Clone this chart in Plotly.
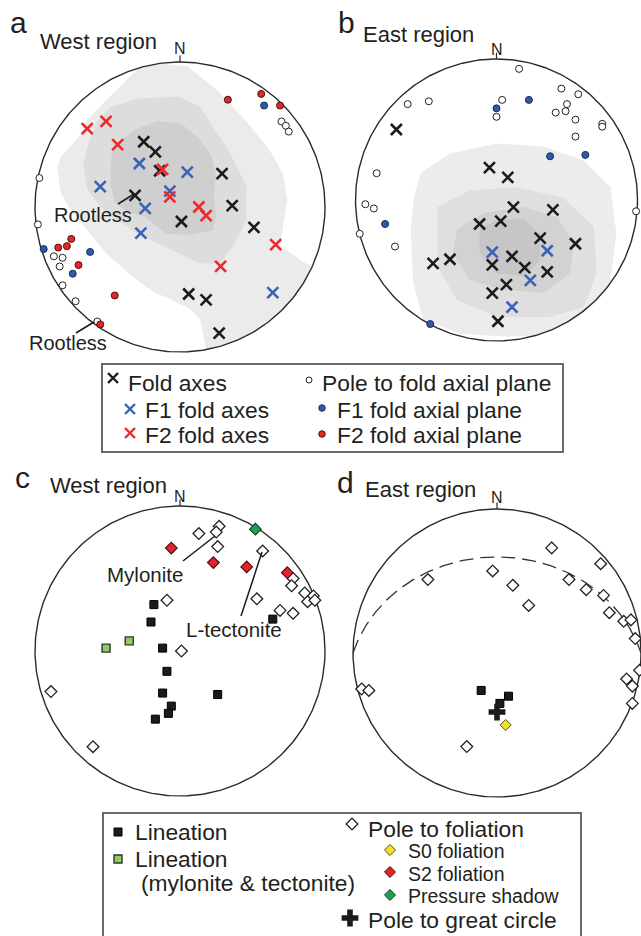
import numpy as np
import plotly.graph_objects as go

W, H = 641, 936
FONT = "Liberation Sans, Arial, Helvetica, sans-serif"
INK = "#231f20"

# ---------------------------------------------------------------------------
# Data, in equal-area net coordinates (unit primitive, x = east, y = north)
# ---------------------------------------------------------------------------
# (a) West region - fold data
a_fold_x = [-0.25, -0.17, -0.14, 0.29, -0.31, 0.36, 0.01, 0.51, 0.06, 0.18, 0.27]
a_fold_y = [0.45, 0.38, 0.25, 0.23, 0.08, 0.01, -0.10, -0.14, -0.60, -0.64, -0.87]
a_f1_axes_x = [-0.28, -0.55, 0.05, -0.07, -0.24, -0.27, 0.64]
a_f1_axes_y = [0.30, 0.14, 0.24, 0.11, -0.01, -0.18, -0.59]
a_f2_axes_x = [-0.64, -0.51, -0.43, -0.12, -0.07, 0.13, 0.18, 0.66, 0.28]
a_f2_axes_y = [0.54, 0.59, 0.43, 0.26, 0.07, 0.00, -0.06, -0.26, -0.41]
a_pole_x = [0.70, 0.73, 0.75, -0.97, -0.98, -0.87, -0.81, -0.83, -0.81, -0.72, -0.57]
a_pole_y = [0.59, 0.56, 0.52, 0.20, -0.12, -0.34, -0.35, -0.41, -0.54, -0.65, -0.79]
a_f1_plane_x = [0.58, -0.94, -0.62, -0.74]
a_f1_plane_y = [0.70, -0.29, -0.31, -0.46]
a_f2_plane_x = [0.33, 0.56, 0.69, -0.75, -0.78, -0.84, -0.70, -0.45, -0.55]
a_f2_plane_y = [0.74, 0.78, 0.70, -0.22, -0.27, -0.28, -0.40, -0.61, -0.81]

# (a) density contours of fold axes (outer to inner)
a_cont1_x = [-0.25, -0.14, 0.05, 0.23, 0.37, 0.51, 0.62, 0.71, 0.74, 0.71, 0.69, 0.90, 1.05, 0.80,
             0.45, 0.18, 0.16, 0.14, 0.08, -0.05, -0.16, -0.28, -0.39, -0.51, -0.62, -0.74, -0.82,
             -0.85, -0.82, -0.71, -0.64, -0.53, -0.41, -0.30]
a_cont1_y = [0.99, 0.99, 0.97, 0.83, 0.69, 0.53, 0.39, 0.23, 0.05, -0.14, -0.27, -0.41, -0.70, -0.95,
             -1.05, -0.98, -0.87, -0.78, -0.71, -0.64, -0.60, -0.52, -0.42, -0.32, -0.18, -0.04, 0.09,
             0.26, 0.35, 0.46, 0.60, 0.72, 0.83, 0.95]
a_cont2_x = [-0.48, -0.28, 0.00, 0.14, 0.23, 0.32, 0.39, 0.46, 0.45, 0.46, 0.39, 0.28, 0.14, 0.00,
             -0.16, -0.30, -0.44, -0.55, -0.64, -0.67, -0.64, -0.58]
a_cont2_y = [0.69, 0.75, 0.76, 0.69, 0.55, 0.42, 0.28, 0.14, 0.00, -0.09, -0.23, -0.39, -0.39, -0.32,
             -0.25, -0.18, -0.09, 0.00, 0.12, 0.28, 0.42, 0.58]
a_cont3_x = [-0.46, -0.32, -0.16, 0.00, 0.12, 0.21, 0.25, 0.23, 0.25, 0.23, 0.09, -0.09, -0.15,
             -0.23, -0.35, -0.45, -0.48, -0.48]
a_cont3_y = [0.42, 0.53, 0.59, 0.58, 0.49, 0.37, 0.23, 0.09, -0.04, -0.16, -0.19, -0.19, -0.14,
             -0.07, -0.04, 0.03, 0.14, 0.30]

# (b) East region - fold data
b_fold_x = [-0.71, -0.05, 0.08, 0.12, 0.40, -0.12, 0.03, 0.31, 0.56, -0.45, -0.33, -0.03, 0.11,
            0.20, 0.36, 0.07, -0.03, 0.01]
b_fold_y = [0.50, 0.23, 0.16, -0.05, -0.07, -0.17, -0.15, -0.27, -0.31, -0.45, -0.42, -0.46, -0.40,
            -0.48, -0.51, -0.60, -0.66, -0.86]
b_f1_axes_x = [-0.03, 0.36, 0.24, 0.11]
b_f1_axes_y = [-0.37, -0.36, -0.57, -0.76]
b_pole_x = [0.16, -0.63, -0.48, 0.04, 0.00, 0.46, 0.58, 0.50, 0.49, 0.42, 0.56, 0.75, 0.75, 0.56,
            -0.85, -0.87, -0.93, -0.97, -0.72, 0.99]
b_pole_y = [0.93, 0.68, 0.70, 0.71, 0.59, 0.79, 0.75, 0.68, 0.63, 0.62, 0.57, 0.54, 0.52, 0.45,
            0.19, -0.06, -0.03, -0.24, -0.33, -0.08]
b_f1_plane_x = [0.00, 0.23, 0.38, 0.63, -0.79, -0.47]
b_f1_plane_y = [0.65, 0.71, 0.31, 0.32, -0.17, -0.88]

# (b) density contours of fold axes (outer to inner)
b_cont1_x = [-0.54, -0.33, 0.00, 0.33, 0.62, 0.81, 0.85, 0.81, 0.66, 0.47, 0.10, -0.26, -0.52,
             -0.59, -0.61, -0.59]
b_cont1_y = [0.19, 0.33, 0.40, 0.38, 0.28, 0.09, -0.24, -0.59, -0.85, -0.95, -0.97, -0.95, -0.85,
             -0.59, -0.24, 0.00]
b_cont2_x = [-0.42, -0.19, 0.14, 0.47, 0.69, 0.71, 0.62, 0.38, 0.00, -0.28, -0.42, -0.42]
b_cont2_y = [-0.05, 0.07, 0.09, 0.02, -0.19, -0.52, -0.76, -0.83, -0.83, -0.71, -0.47, -0.24]
b_cont3_x = [-0.28, -0.09, 0.19, 0.43, 0.55, 0.52, 0.33, 0.05, -0.19, -0.31]
b_cont3_y = [-0.21, -0.09, -0.05, -0.12, -0.31, -0.52, -0.66, -0.64, -0.57, -0.38]
b_cont4_x = [-0.12, 0.00, 0.19, 0.31, 0.31, 0.19, 0.00, -0.12]
b_cont4_y = [-0.21, -0.14, -0.13, -0.24, -0.43, -0.54, -0.52, -0.38]

# (c) West region - lineations and foliations
c_lin_x = [-0.18, -0.20, -0.12, -0.09, -0.12, -0.06, -0.08, -0.17, 0.26, 0.64]
c_lin_y = [0.32, 0.20, 0.02, -0.14, -0.29, -0.38, -0.43, -0.47, -0.30, 0.22]
c_lin_myl_x = [-0.51, -0.35]
c_lin_myl_y = [0.02, 0.07]
c_fol_x = [0.27, 0.25, 0.13, 0.26, 0.57, 0.78, 0.77, 0.86, 0.92, 0.88, 0.93, 0.53, -0.09, 0.69,
           0.78, 0.01, -0.89, -0.60]
c_fol_y = [0.86, 0.82, 0.81, 0.72, 0.69, 0.50, 0.45, 0.40, 0.38, 0.34, 0.35, 0.36, 0.35, 0.28,
           0.26, 0.00, -0.28, -0.66]
c_s2_x = [-0.06, 0.23, 0.46, 0.74]
c_s2_y = [0.71, 0.61, 0.58, 0.54]
c_shadow_x = [0.52]
c_shadow_y = [0.84]

# (d) East region - lineations and foliations
d_fol_x = [0.38, 0.72, -0.03, -0.48, 0.11, 0.50, 0.62, 0.74, 0.22, 0.78, 0.88, 0.93, 0.96, 0.99,
           0.90, 0.94, 0.94, -0.94, -0.89, -0.21]
d_fol_y = [0.73, 0.62, 0.57, 0.51, 0.47, 0.51, 0.44, 0.40, 0.33, 0.28, 0.22, 0.23, 0.10, -0.12,
           -0.18, -0.23, -0.35, -0.25, -0.26, -0.65]
d_lin_x = [-0.11, 0.08, 0.02]
d_lin_y = [-0.26, -0.30, -0.35]
d_s0_x = [0.06]
d_s0_y = [-0.50]
d_gc_pole_x = [0.00]
d_gc_pole_y = [-0.41]

# ---------------------------------------------------------------------------
# Layout geometry (pixels): centre and radius of each primitive circle
# ---------------------------------------------------------------------------
PANELS = [
    dict(key="a", cx=180.0, cy=207.0, r=145.0, ax=""),
    dict(key="b", cx=496.5, cy=200.0, r=141.0, ax="2"),
    dict(key="c", cx=180.0, cy=651.0, r=145.0, ax="3"),
    dict(key="d", cx=497.0, cy=653.0, r=144.0, ax="4"),
]
AX = {p["key"]: p["ax"] for p in PANELS}

BLACK = "#1b1b1b"
BLUE = "#3a62b8"
RED = "#ec2a2e"

fig = go.Figure()
layout_axes = {}

for p in PANELS:
    pad = 1.15 * p["r"]
    x0, x1 = max(0.0, p["cx"] - pad), min(W, p["cx"] + pad)
    y0, y1 = max(0.0, p["cy"] - pad), min(H, p["cy"] + pad)
    xr = [(x0 - p["cx"]) / p["r"], (x1 - p["cx"]) / p["r"]]
    yr = [(p["cy"] - y1) / p["r"], (p["cy"] - y0) / p["r"]]
    common = dict(visible=False, showgrid=False, zeroline=False, fixedrange=True, autorange=False)
    layout_axes["xaxis" + p["ax"]] = dict(domain=[x0 / W, x1 / W], range=xr,
                                          anchor="y" + p["ax"], **common)
    layout_axes["yaxis" + p["ax"]] = dict(domain=[1 - y1 / H, 1 - y0 / H], range=yr,
                                          anchor="x" + p["ax"], **common)

# overlay axis in pixel units for titles, legends and leader lines
layout_axes["xaxis5"] = dict(domain=[0, 1], range=[0, W], visible=False, fixedrange=True,
                             anchor="y5", showgrid=False, zeroline=False)
layout_axes["yaxis5"] = dict(domain=[0, 1], range=[H, 0], visible=False, fixedrange=True,
                             anchor="x5", showgrid=False, zeroline=False)


def add(trace, key):
    ax = AX.get(key, key)
    trace.update(xaxis="x" + ax, yaxis="y" + ax, showlegend=False, hoverinfo="skip",
                 cliponaxis=False)
    fig.add_trace(trace)


def contour_path(xs, ys, steps=12):
    """Densify a contour polygon and keep it inside the primitive circle."""
    xs = np.r_[xs, xs[0]]
    ys = np.r_[ys, ys[0]]
    t = np.linspace(0.0, 1.0, steps, endpoint=False)
    px = np.concatenate([xs[i] + (xs[i + 1] - xs[i]) * t for i in range(len(xs) - 1)])
    py = np.concatenate([ys[i] + (ys[i + 1] - ys[i]) * t for i in range(len(ys) - 1)])
    k = np.minimum(1.0, 0.997 / np.maximum(np.hypot(px, py), 1e-9))
    px, py = px * k, py * k
    return np.r_[px, px[0]], np.r_[py, py[0]]


def add_contour(xs, ys, color, key):
    cx_, cy_ = contour_path(xs, ys)
    add(go.Scatter(x=cx_, y=cy_, mode="lines", fill="toself", fillcolor=color,
                   line=dict(width=0, color=color)), key)


def net_to_vec(x, y):
    rr = np.hypot(x, y)
    theta = 2 * np.arcsin(min(rr / np.sqrt(2), 1.0))
    az = np.arctan2(x, y)
    return np.array([np.sin(theta) * np.sin(az), np.sin(theta) * np.cos(az), -np.cos(theta)])


def vec_to_net(v):
    v = np.where(v[2] > 0, -v, v)
    theta = np.arccos(np.clip(-v[2], -1, 1))
    az = np.arctan2(v[0], v[1])
    rr = np.sqrt(2) * np.sin(theta / 2)
    return rr * np.sin(az), rr * np.cos(az)


def great_circle(pole_x, pole_y, n=181):
    pvec = net_to_vec(pole_x, pole_y)
    u = np.cross(pvec, [0.0, 0.0, 1.0])
    u /= np.linalg.norm(u)
    w = np.cross(pvec, u)
    w /= np.linalg.norm(w)
    if w[2] > 0:
        w = -w
    t = np.linspace(0, np.pi, n)
    pts = np.outer(np.cos(t), u) + np.outer(np.sin(t), w)
    xs, ys = [], []
    for v in pts:
        a, b = vec_to_net(v)
        xs.append(a)
        ys.append(b)
    return xs, ys


def marks(xs, ys, key, symbol, size, fill, edge, ew):
    add(go.Scatter(x=xs, y=ys, mode="markers",
                   marker=dict(symbol=symbol, size=size, color=fill,
                               line=dict(color=edge, width=ew))), key)


def xmarks(xs, ys, key, color, size=11):
    marks(xs, ys, key, "x-thin", size, color, color, 2.6)


# ---- density shading ----
for xs, ys, col in [(a_cont1_x, a_cont1_y, "#ebebeb"), (a_cont2_x, a_cont2_y, "#dddddd"),
                    (a_cont3_x, a_cont3_y, "#cfcfcf")]:
    add_contour(xs, ys, col, "a")
for xs, ys, col in [(b_cont1_x, b_cont1_y, "#ececec"), (b_cont2_x, b_cont2_y, "#dfdfdf"),
                    (b_cont3_x, b_cont3_y, "#d2d2d2"), (b_cont4_x, b_cont4_y, "#c6c6c6")]:
    add_contour(xs, ys, col, "b")

# ---- primitive circles and north ticks ----
ang = np.linspace(0, 2 * np.pi, 361)
for p in PANELS:
    add(go.Scatter(x=np.cos(ang), y=np.sin(ang), mode="lines",
                   line=dict(color="#2a2a2a", width=1.4)), p["key"])
    add(go.Scatter(x=[0, 0], y=[1.0, 1.045], mode="lines",
                   line=dict(color="#2a2a2a", width=1.2)), p["key"])

# ---- great circle in (d) ----
gx, gy = great_circle(d_gc_pole_x[0], d_gc_pole_y[0])
add(go.Scatter(x=gx, y=gy, mode="lines",
               line=dict(color="#333333", width=1.3, dash="14px,7px")), "d")

# ---- panel (a) ----
marks(a_pole_x, a_pole_y, "a", "circle", 7, "white", "#222222", 1)
marks(a_f1_plane_x, a_f1_plane_y, "a", "circle", 7, "#2f5aa8", "#1c2c50", 1)
marks(a_f2_plane_x, a_f2_plane_y, "a", "circle", 7, "#e32626", "#4a1010", 1)
xmarks(a_fold_x, a_fold_y, "a", BLACK)
xmarks(a_f1_axes_x, a_f1_axes_y, "a", BLUE)
xmarks(a_f2_axes_x, a_f2_axes_y, "a", RED)

# ---- panel (b) ----
marks(b_pole_x, b_pole_y, "b", "circle", 7, "white", "#222222", 1)
marks(b_f1_plane_x, b_f1_plane_y, "b", "circle", 7, "#2f5aa8", "#1c2c50", 1)
xmarks(b_fold_x, b_fold_y, "b", BLACK)
xmarks(b_f1_axes_x, b_f1_axes_y, "b", BLUE)

# ---- panel (c) ----
marks(c_fol_x, c_fol_y, "c", "diamond", 9, "white", "#222222", 1.3)
marks(c_s2_x, c_s2_y, "c", "diamond", 9, "#e8202a", "#3a1010", 1.1)
marks(c_shadow_x, c_shadow_y, "c", "diamond", 9, "#20a050", "#103a20", 1.1)
marks(c_lin_x, c_lin_y, "c", "square", 8, BLACK, "#000000", 1)
marks(c_lin_myl_x, c_lin_myl_y, "c", "square", 8, "#8cd05a", "#333333", 1.4)

# ---- panel (d) ----
marks(d_fol_x, d_fol_y, "d", "diamond", 9, "white", "#222222", 1.3)
marks(d_lin_x, d_lin_y, "d", "square", 8, BLACK, "#000000", 1)
marks(d_gc_pole_x, d_gc_pole_y, "d", "cross", 14, BLACK, BLACK, 0)
marks(d_s0_x, d_s0_y, "d", "diamond", 8.5, "#f2e030", "#555500", 1)

# ---------------------------------------------------------------------------
# Text, leader lines and legend boxes (overlay pixel axis)
# ---------------------------------------------------------------------------
annotations = []


def text(s, x, baseline, fs, anchor="left"):
    annotations.append(dict(text=s, x=x - (2 if anchor == "left" else 0),
                            y=baseline - 0.35 * fs, xref="x5", yref="y5",
                            xanchor=anchor, yanchor="middle", showarrow=False,
                            font=dict(family=FONT, size=fs, color=INK)))


# panel letters, region titles, north labels
text("a", 10, 33, 30)
text("West region", 40, 49, 22)
text("N", 180, 54, 16, "center")
text("b", 338, 33, 30)
text("East region", 363, 42, 22)
text("N", 496.5, 55, 16, "center")
text("c", 15, 488, 30)
text("West region", 50, 493, 22)
text("N", 180, 502, 16, "center")
text("d", 337, 493, 30)
text("East region", 365, 497, 22)
text("N", 497, 503, 16, "center")

# callouts
text("Rootless", 93, 222, 20, "center")
text("Rootless", 68, 350, 20, "center")
text("Mylonite", 145, 582, 20.5, "center")
text("L-tectonite", 234, 637, 20.5, "center")

shapes = []
for (xa, ya, xb, yb) in [(118, 204, 134, 194), (76, 333, 94, 322),
                         (183, 561, 215, 536), (241, 616, 262, 552)]:
    shapes.append(dict(type="line", xref="x5", yref="y5", x0=xa, y0=ya, x1=xb, y1=yb,
                       line=dict(color="#1a1a1a", width=1.5)))

# legend boxes
shapes.append(dict(type="rect", xref="x5", yref="y5", x0=102, y0=364, x1=563, y1=452,
                   line=dict(color="#6a6a6a", width=2)))
shapes.append(dict(type="rect", xref="x5", yref="y5", x0=103, y0=813, x1=581, y1=950,
                   line=dict(color="#6a6a6a", width=2)))

LF = 22.8
text("Fold axes", 128, 391, LF)
text("F1 fold axes", 145, 418, LF)
text("F2 fold axes", 145, 443, LF)
text("Pole to fold axial plane", 322, 391, LF)
text("F1 fold axial plane", 337, 418, LF)
text("F2 fold axial plane", 337, 443, LF)

text("Lineation", 135, 840, LF)
text("Lineation", 135, 867, LF)
text("(mylonite &amp; tectonite)", 141, 891, LF)
text("Pole to foliation", 368, 837, LF)
text("S0 foliation", 408, 858, 19.5)
text("S2 foliation", 408, 881, 19.5)
text("Pressure shadow", 408, 903, 19.5)
text("Pole to great circle", 368, 928, LF)

# legend glyphs
marks([113], [378], "5", "x-thin", 10, BLACK, BLACK, 2.4)
marks([130], [409], "5", "x-thin", 10, BLUE, BLUE, 2.4)
marks([130], [433], "5", "x-thin", 10, RED, RED, 2.4)
marks([309], [380], "5", "circle", 6, "white", "#222222", 1)
marks([322], [408], "5", "circle", 6.5, "#2f5aa8", "#1c2c50", 1)
marks([322], [434], "5", "circle", 6.5, "#e32626", "#4a1010", 1)

marks([118], [832], "5", "square", 8, BLACK, "#000000", 1)
marks([118], [859], "5", "square", 8, "#8cd05a", "#333333", 1.4)
marks([352], [824], "5", "diamond", 9, "white", "#222222", 1.3)
marks([390], [850], "5", "diamond", 8.5, "#f2e030", "#555500", 1)
marks([390], [872], "5", "diamond", 8.5, "#e8202a", "#3a1010", 1)
marks([390], [895], "5", "diamond", 8.5, "#20a050", "#103a20", 1)
marks([350], [918], "5", "cross", 14, BLACK, BLACK, 0)

fig.update_layout(
    width=W, height=H, autosize=False,
    margin=dict(l=0, r=0, t=0, b=0, pad=0),
    paper_bgcolor="white", plot_bgcolor="rgba(0,0,0,0)",
    template="none",
    showlegend=False,
    annotations=annotations,
    shapes=shapes,
    font=dict(family=FONT, color=INK),
    **layout_axes,
)

fig.write_html("out.html", include_plotlyjs=True, config=dict(displayModeBar=False))
